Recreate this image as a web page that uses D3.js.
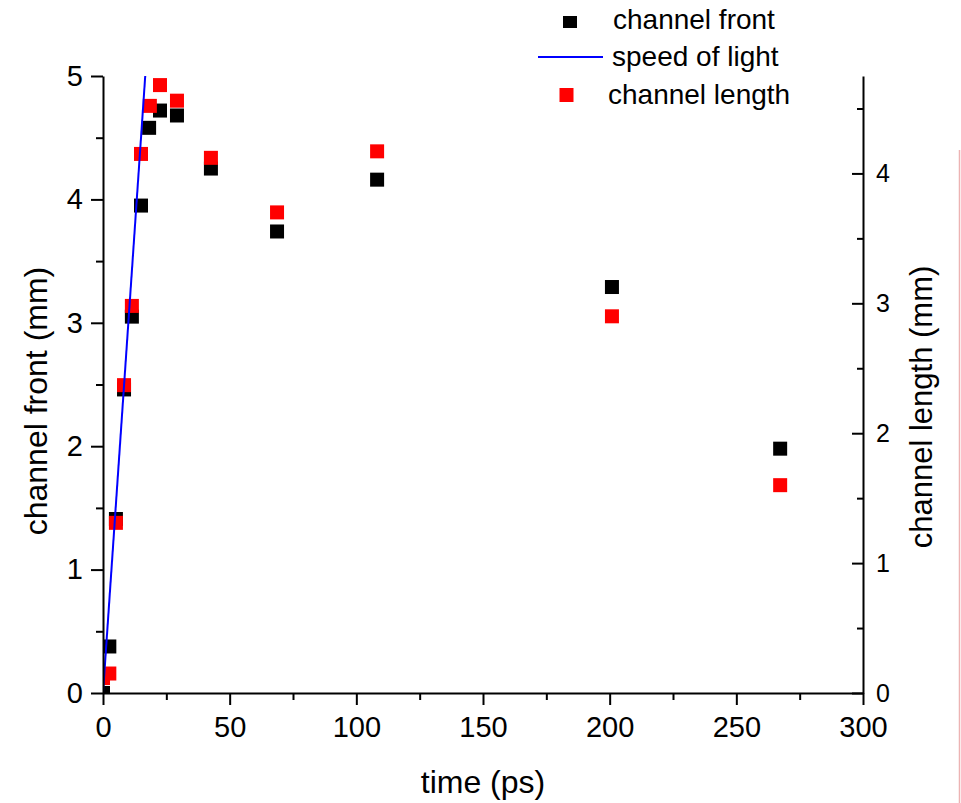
<!DOCTYPE html>
<html><head><meta charset="utf-8">
<script src="https://cdn.jsdelivr.net/npm/d3@7"></script>
<style>
body{margin:0;background:#fff}
svg{display:block}
text{font-family:"Liberation Sans",Arial,sans-serif;fill:#000}
</style>
</head><body>
<svg id="c" width="961" height="803"></svg>
<script>
// ---- data ----
const frontTime  = [0, 2.5, 5.1, 8.3, 11.4, 15.0, 18.2, 22.5, 29.2, 42.6, 68.7, 108.2, 200.9, 267.3];
const frontMM    = [0.0, 0.377, 1.41, 2.46, 3.05, 3.95, 4.58, 4.72, 4.68, 4.25, 3.74, 4.16, 3.29, 1.98];
const lengthTime = [0, 2.5, 5.1, 8.3, 11.4, 15.0, 18.5, 22.5, 29.2, 42.6, 68.7, 108.2, 200.9, 267.3];
const lengthMM   = [0.115, 0.15, 1.31, 2.37, 2.98, 4.15, 4.52, 4.68, 4.56, 4.12, 3.70, 4.17, 2.90, 1.60];
const lightTime  = [0, 16.67];
const lightMM    = [0, 5];
const xTicks      = [0, 50, 100, 150, 200, 250, 300];
const xMinorTicks = [25, 75, 125, 175, 225, 275];
const leftTicks   = [0, 1, 2, 3, 4, 5];
const leftMinor   = [0.5, 1.5, 2.5, 3.5, 4.5];
const rightTicks  = [0, 1, 2, 3, 4];
const rightMinor  = [0.5, 1.5, 2.5, 3.5, 4.5];
const legendLabels = ["channel front", "speed of light", "channel length"];
const xTitle = "time (ps)", leftTitle = "channel front (mm)", rightTitle = "channel length (mm)";

// ---- layout ----
const L = 103, R = 863, T = 76, B = 693;
const svg = d3.select("#c");
const x  = d3.scaleLinear().domain([0, 300]).range([L, R]);
const yL = d3.scaleLinear().domain([0, 5]).range([B, T]);
const yR = d3.scaleLinear().domain([0, 4.75]).range([B, T]);

svg.append("defs").append("clipPath").attr("id", "plot")
  .append("rect").attr("x", L).attr("y", T - 10).attr("width", R - L).attr("height", B - T + 10);

// faint edge line at right border
svg.append("line").attr("x1", 959.5).attr("x2", 959.5).attr("y1", 150).attr("y2", 803)
  .attr("stroke", "#e79a9a").attr("stroke-width", 1.5).attr("opacity", 0.75);

const g = svg.append("g").attr("clip-path", "url(#plot)");
const S = 14;
const front = frontTime.map((t, i) => ({t, v: frontMM[i]}));
const len = lengthTime.map((t, i) => ({t, v: lengthMM[i]}));

g.selectAll("rect.front").data(front).enter().append("rect").attr("class", "front")
  .attr("x", d => x(d.t) - S / 2).attr("y", d => yL(d.v) - S / 2)
  .attr("width", S).attr("height", S).attr("fill", "#000");
g.selectAll("rect.len").data(len).enter().append("rect").attr("class", "len")
  .attr("x", d => x(d.t) - S / 2).attr("y", d => yR(d.v) - S / 2)
  .attr("width", S).attr("height", S).attr("fill", "#ff0000");
g.append("path").datum(lightTime.map((t, i) => [t, lightMM[i]]))
  .attr("d", d3.line().x(d => x(d[0])).y(d => yL(d[1])))
  .attr("fill", "none").attr("stroke", "#0000ff").attr("stroke-width", 2);

// ---- axes ----
function style(sel, fs) {
  sel.selectAll("path.domain").attr("stroke", "#000").attr("stroke-width", 2);
  sel.selectAll(".tick line").attr("stroke", "#000").attr("stroke-width", 2);
  sel.selectAll("text").style("font-size", fs + "px").attr("fill", "#000");
  sel.attr("font-family", null);
}
const bx = svg.append("g").attr("transform", `translate(0,${B})`)
  .call(d3.axisBottom(x).tickValues(xTicks).tickSize(12).tickSizeOuter(0).tickPadding(11).tickFormat(d3.format("d")));
style(bx, 29);
const bxm = svg.append("g").attr("transform", `translate(0,${B})`)
  .call(d3.axisBottom(x).tickValues(xMinorTicks).tickSize(7).tickSizeOuter(0).tickFormat(""));
style(bxm, 29); bxm.select("path.domain").remove();

const ly = svg.append("g").attr("transform", `translate(${L},0)`)
  .call(d3.axisLeft(yL).tickValues(leftTicks).tickSize(12).tickSizeOuter(0).tickPadding(8).tickFormat(d3.format("d")));
style(ly, 29);
const lym = svg.append("g").attr("transform", `translate(${L},0)`)
  .call(d3.axisLeft(yL).tickValues(leftMinor).tickSize(7).tickSizeOuter(0).tickFormat(""));
style(lym, 29); lym.select("path.domain").remove();

const ry = svg.append("g").attr("transform", `translate(${R},0)`)
  .call(d3.axisRight(yR).tickValues(rightTicks).tickSize(-11).tickSizeOuter(0).tickPadding(13).tickFormat(d3.format("d")));
style(ry, 25);
const rym = svg.append("g").attr("transform", `translate(${R},0)`)
  .call(d3.axisRight(yR).tickValues(rightMinor).tickSize(-6).tickSizeOuter(0).tickFormat(""));
style(rym, 25); rym.select("path.domain").remove();

// ---- titles ----
svg.append("text").attr("x", (L + R) / 2).attr("y", 793).attr("text-anchor", "middle")
  .style("font-size", "32px").text(xTitle);
svg.append("text").attr("transform", "translate(47,401) rotate(-90)").attr("text-anchor", "middle")
  .style("font-size", "32px").text(leftTitle);
svg.append("text").attr("transform", "translate(932,407) rotate(-90)").attr("text-anchor", "middle")
  .style("font-size", "31px").text(rightTitle);

// ---- legend ----
const lg = svg.append("g");
lg.append("rect").attr("x", 570 - S / 2).attr("y", 22 - S / 2 + 1).attr("width", S).attr("height", 12).attr("fill", "#000");
lg.append("line").attr("x1", 538).attr("x2", 603).attr("y1", 57).attr("y2", 57).attr("stroke", "#0000ff").attr("stroke-width", 2);
lg.append("rect").attr("x", 566.5 - S / 2).attr("y", 95 - S / 2).attr("width", S).attr("height", S).attr("fill", "#ff0000");
const lgPos = [[613, 29], [612, 66], [608, 104]];
legendLabels.forEach((s, i) => {
  lg.append("text").attr("x", lgPos[i][0]).attr("y", lgPos[i][1]).style("font-size", "28px").text(s);
});
</script>
</body></html>
